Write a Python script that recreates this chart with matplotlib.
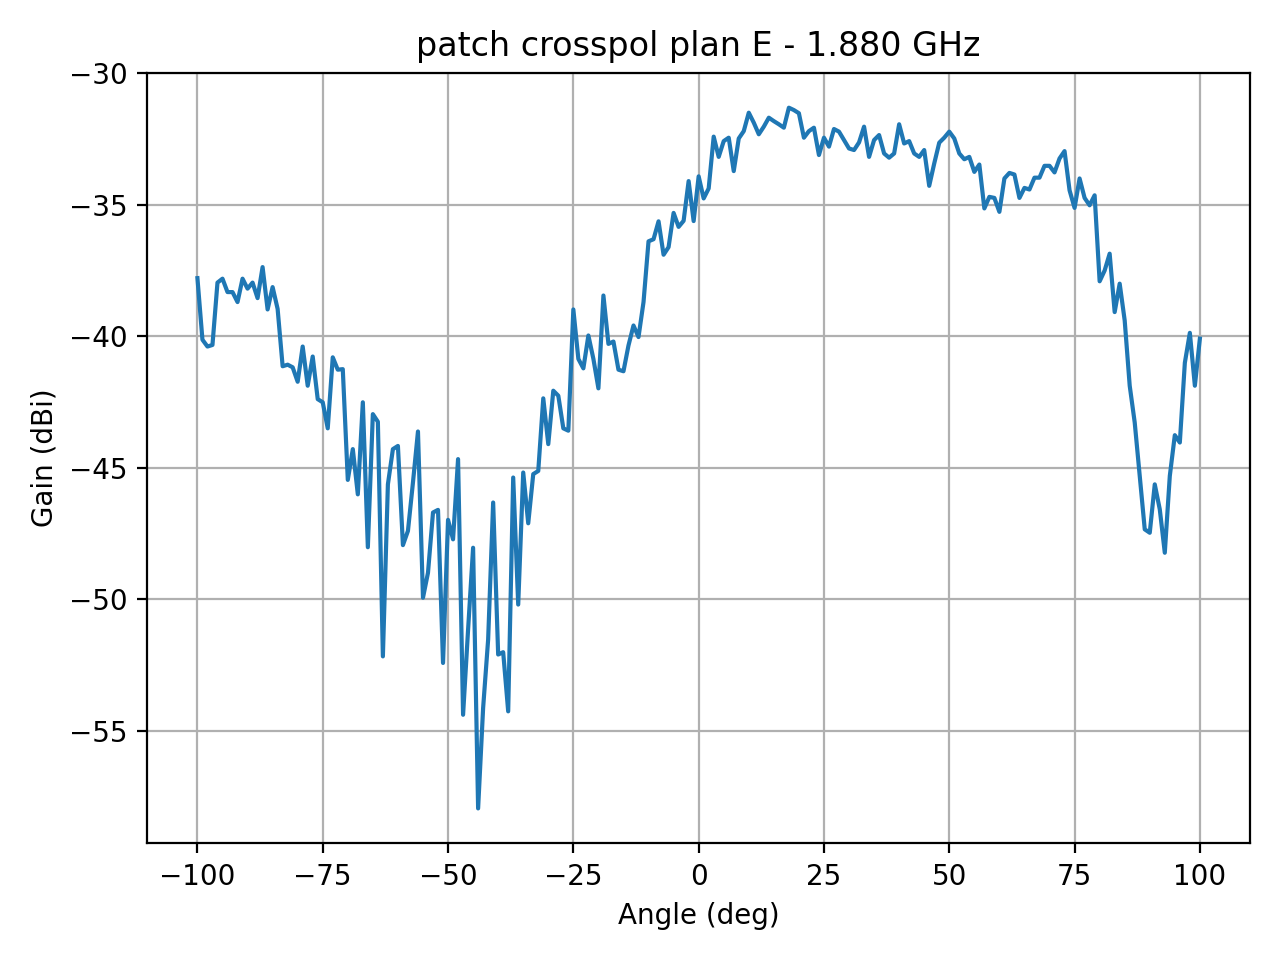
import numpy as np
import matplotlib
matplotlib.use("Agg")
import matplotlib.pyplot as plt

# angles -100..100 deg, 1 deg step
angles = np.arange(-100, 101, 1)

gain = [
    -37.79, -40.13, -40.39, -40.33, -37.96, -37.81, -38.32, -38.32, -38.70, -37.81,
    -38.19, -37.96, -38.55, -37.37, -38.98, -38.13, -38.96, -41.14, -41.08, -41.18,
    -41.73, -40.39, -41.88, -40.77, -42.39, -42.51, -43.50, -40.80, -41.27, -41.25,
    -45.46, -44.29, -46.01, -42.51, -48.02, -42.96, -43.25, -52.17, -45.63, -44.29,
    -44.17, -47.94, -47.40, -45.56, -43.62, -49.94, -48.99, -46.70, -46.60, -52.42,
    -46.98, -47.72, -44.67, -54.39, -51.15, -48.04, -57.95, -54.13, -51.53, -46.32,
    -52.10, -52.01, -54.26, -45.37, -50.20, -45.18, -47.11, -45.24, -45.12, -42.36,
    -44.10, -42.07, -42.26, -43.50, -43.59, -38.98, -40.86, -41.22, -39.97, -40.86,
    -41.98, -38.45, -40.29, -40.20, -41.27, -41.33, -40.35, -39.59, -40.03, -38.70,
    -36.39, -36.31, -35.63, -36.90, -36.61, -35.31, -35.84, -35.61, -34.10, -35.62,
    -33.92, -34.76, -34.38, -32.41, -33.18, -32.58, -32.45, -33.72, -32.48, -32.20,
    -31.50, -31.88, -32.32, -32.03, -31.69, -31.82, -31.94, -32.07, -31.31, -31.40,
    -31.52, -32.45, -32.20, -32.07, -33.11, -32.45, -32.79, -32.12, -32.22, -32.54,
    -32.86, -32.92, -32.63, -32.03, -33.18, -32.54, -32.35, -33.05, -33.21, -33.05,
    -31.94, -32.67, -32.58, -33.05, -33.18, -32.92, -34.28, -33.43, -32.64, -32.45,
    -32.22, -32.48, -33.05, -33.27, -33.18, -33.75, -33.47, -35.14, -34.70, -34.74,
    -35.27, -34.00, -33.79, -33.85, -34.74, -34.36, -34.42, -33.97, -33.97, -33.52,
    -33.52, -33.77, -33.24, -32.96, -34.45, -35.12, -34.00, -34.74, -35.02, -34.64,
    -37.91, -37.50, -36.86, -39.08, -38.00, -39.40, -41.88, -43.28, -45.31, -47.34,
    -47.47, -45.63, -46.58, -48.23, -45.31, -43.76, -44.04, -41.01, -39.87, -41.88,
    -40.09,
]

fig, ax = plt.subplots(figsize=(6.4, 4.8), dpi=200)
ax.plot(angles, gain)
ax.set_title("patch crosspol plan E - 1.880 GHz")
ax.set_xlabel("Angle (deg)")
ax.set_ylabel("Gain (dBi)")
ax.grid(True)
fig.tight_layout()
fig.savefig("out.png")
